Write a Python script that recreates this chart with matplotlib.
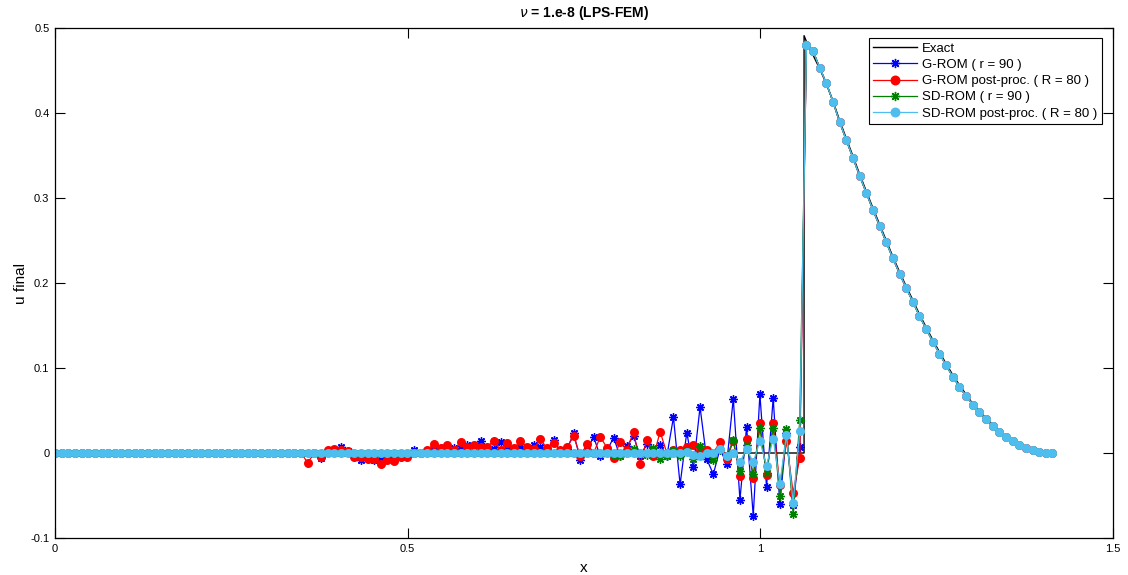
import numpy as np
import matplotlib
matplotlib.use("Agg")
import matplotlib.pyplot as plt

plt.rcParams['font.family'] = ['Liberation Sans', 'DejaVu Sans']

# grid: 151 nodes on [0, sqrt(2)]
x_nodes = np.linspace(0.0, 1.4142, 151)

# smooth part after the shock (nodes 113..150), shared by all ROM solutions
tail = [0.480, 0.473, 0.453, 0.435, 0.413, 0.389, 0.368, 0.347, 0.326, 0.306,
        0.286, 0.267, 0.248, 0.229, 0.211, 0.194, 0.178, 0.161, 0.146, 0.131,
        0.117, 0.103, 0.090, 0.078, 0.067, 0.057, 0.048, 0.040, 0.032, 0.025,
        0.019, 0.014, 0.009, 0.006, 0.003, 0.001, 0.000, 0.000]

# Exact solution
exact_x = [0.0, 1.062, 1.062, 1.0654, 1.0748, 1.0842, 1.0937, 1.1031, 1.1125,
           1.1219, 1.1314, 1.1408, 1.1502, 1.1597, 1.1691, 1.1785, 1.1879,
           1.1974, 1.2068, 1.2162, 1.2257, 1.2351, 1.2445, 1.2539, 1.2634,
           1.2728, 1.2822, 1.2917, 1.3011, 1.3105, 1.3199, 1.3294, 1.3388,
           1.3482, 1.3577, 1.3671, 1.3765, 1.3859, 1.3954, 1.4048, 1.4142]
exact_u = [0.0, 0.0, 0.491, 0.484, 0.468, 0.452, 0.434, 0.414, 0.391, 0.370,
           0.349, 0.328, 0.308, 0.288, 0.269, 0.250, 0.231, 0.213, 0.196,
           0.180, 0.163, 0.148, 0.133, 0.119, 0.105, 0.092, 0.080, 0.069,
           0.058, 0.049, 0.041, 0.033, 0.026, 0.020, 0.014, 0.010, 0.006,
           0.003, 0.001, 0.000, 0.000]

g_rom = [0, 0, 0, 0, 0, 0, 0, 0, 0, 0,
         0, 0, 0, 0, 0, 0, 0, 0, 0, 0,
         0, 0, 0, 0, 0, 0, 0, 0, 0, 0,
         0, 0, 0, 0, 0, 0, 0, 0,
         0.0, 0.0, -0.006, 0.002, 0.003, 0.0075, 0.002, -0.004, -0.008, -0.004,
         -0.008, -0.006, -0.006, -0.004, -0.005, -0.002, 0.0035, 0.0, 0.002, 0.004,
         0.006, 0.003, 0.0063, 0.008, 0.0094, 0.006, 0.0145, 0.004, 0.005, 0.0133,
         0.006, 0.005, 0.008, 0.006, 0.009, 0.0075, 0.004, 0.015, 0.002, 0.005,
         0.023, -0.008, 0.004, 0.019, -0.004, 0.003, 0.018, -0.004, 0.008, 0.020,
         -0.004, 0.011, 0.0, 0.010, -0.004, 0.042, -0.037, 0.024, -0.017, 0.054,
         -0.007, -0.025, 0.005, -0.013, 0.064, -0.055, 0.031, -0.074, 0.069, -0.040,
         0.065, -0.060, 0.023, -0.061, 0.0075] + tail

g_rom_pp = [0, 0, 0, 0, 0, 0, 0, 0, 0, 0,
            0, 0, 0, 0, 0, 0, 0, 0, 0, 0,
            0, 0, 0, 0, 0, 0, 0, 0, 0, 0,
            0, 0, 0, 0, 0, 0, 0, 0,
            -0.0114, 0.0, -0.005, 0.0035, 0.0043, 0.003, 0.0024, -0.005, -0.005, -0.0075,
            -0.007, -0.0125, -0.008, -0.0098, -0.0043, -0.0043, 0.0, 0.0, 0.0035, 0.011,
            0.0055, 0.0098, 0.003, 0.0133, 0.0075, 0.009, 0.0075, 0.0075, 0.0145, 0.0035,
            0.0114, 0.0059, 0.0137, 0.0075, 0.005, 0.016, 0.0055, 0.012, 0.003, 0.0067,
            0.020, -0.004, 0.011, 0.0, 0.019, 0.0063, -0.0055, 0.013, 0.0035, 0.025,
            -0.013, 0.015, -0.004, 0.025, 0.0, 0.004, 0.0035, 0.0067, 0.0098, 0.004,
            0.0035, 0.0, 0.013, -0.0075, 0.014, -0.027, 0.017, -0.029, 0.035, -0.026,
            0.035, -0.038, 0.014, -0.047, -0.0055] + tail

sd_rom = [0, 0, 0, 0, 0, 0, 0, 0, 0, 0,
          0, 0, 0, 0, 0, 0, 0, 0, 0, 0,
          0, 0, 0, 0, 0, 0, 0, 0, 0, 0,
          0, 0, 0, 0, 0, 0, 0, 0, 0, 0,
          0, 0, 0, 0, 0, 0, 0, 0, 0, 0,
          0, 0, 0, 0, 0, 0, 0, 0, 0, 0,
          0, 0, 0, 0, 0, 0, 0, 0, 0, 0,
          0, 0, 0, 0, 0, 0, 0, 0, 0, 0,
          0, 0, 0, 0,
          -0.002, -0.003, 0.0, 0.0047, 0.0, -0.002, 0.0055, -0.007, -0.003, 0.0035,
          -0.0035, 0.002, -0.007, 0.0086, 0.0, -0.008, 0.003, -0.004, 0.015, -0.021,
          0.010, -0.025, 0.029, -0.023, 0.030, -0.050, 0.028, -0.072, 0.039] + tail

sd_rom_pp = [0, 0, 0, 0, 0, 0, 0, 0, 0, 0,
             0, 0, 0, 0, 0, 0, 0, 0, 0, 0,
             0, 0, 0, 0, 0, 0, 0, 0, 0, 0,
             0, 0, 0, 0, 0, 0, 0, 0, 0, 0,
             0, 0, 0, 0, 0, 0, 0, 0, 0, 0,
             0, 0, 0, 0, 0, 0, 0, 0, 0, 0,
             0, 0, 0, 0, 0, 0, 0, 0, 0, 0,
             0, 0, 0, 0, 0, 0, 0, 0, 0, 0,
             0, 0, 0, 0, 0, 0, 0, 0, 0, 0,
             0, 0, 0, 0, 0,
             0.001, -0.002, -0.003, 0.0, 0.0, 0.0047, -0.004, 0.0, -0.011, 0.005,
             -0.011, 0.014, -0.015, 0.017, -0.036, 0.021, -0.059, 0.026] + tail

for s in (g_rom, g_rom_pp, sd_rom, sd_rom_pp):
    assert len(s) == 151, len(s)

labels = ['Exact', 'G-ROM ( r = 90 )', 'G-ROM post-proc. ( R = 80 )',
          'SD-ROM ( r = 90 )', 'SD-ROM post-proc. ( R = 80 )']
xticks = [0, 0.5, 1, 1.5]
yticks = [-0.1, 0, 0.1, 0.2, 0.3, 0.4, 0.5]

fig = plt.figure(figsize=(11.28, 5.75), dpi=100)
ax = fig.add_axes([55/1128, 1-538/575, (1113-55)/1128, (538-28)/575])

ast = (8, 2, 0)
ax.plot(exact_x, exact_u, color='black', lw=1.0, label=labels[0])
ax.plot(x_nodes, g_rom, color='#0000ff', lw=0.9, marker=ast, ms=6, mew=1.0, label=labels[1])
ax.plot(x_nodes, g_rom_pp, color='#ff0000', lw=0.9, marker='o', ms=6.5, mew=0, label=labels[2])
ax.plot(x_nodes, sd_rom, color='#008000', lw=0.9, marker=ast, ms=6, mew=1.0, label=labels[3])
ax.plot(x_nodes, sd_rom_pp, color='#4dbeee', lw=0.9, marker='o', ms=6.5, mew=0, label=labels[4])

ax.set_xlim(0, 1.5)
ax.set_ylim(-0.1, 0.5)
ax.set_xticks(xticks)
ax.set_xticklabels(['0', '0.5', '1', '1.5'])
ax.set_yticks(yticks)
ax.set_yticklabels(['-0.1', '0', '0.1', '0.2', '0.3', '0.4', '0.5'])
ax.tick_params(direction='in', length=7, width=0.8, top=True, right=True,
               labelsize=8, pad=4)
for sp in ax.spines.values():
    sp.set_linewidth(0.9)

ax.set_xlabel('x', fontsize=11, labelpad=5)
ax.set_ylabel('u final', fontsize=11, labelpad=2)
ax.set_title(r'$\nu$ = 1.e-8 (LPS-FEM)', fontsize=10, fontweight='bold', pad=8)

leg = ax.legend(loc='upper right', bbox_to_anchor=(1102/1128, 1-38/575),
                bbox_transform=fig.transFigure, fontsize=9.5, frameon=True,
                fancybox=False, edgecolor='black', framealpha=1,
                handlelength=3.3, handletextpad=0.4, labelspacing=0.3,
                borderpad=0.35, borderaxespad=0, markerscale=1.1, numpoints=1)
leg.get_frame().set_linewidth(0.8)

fig.savefig('out.png', dpi=100)
